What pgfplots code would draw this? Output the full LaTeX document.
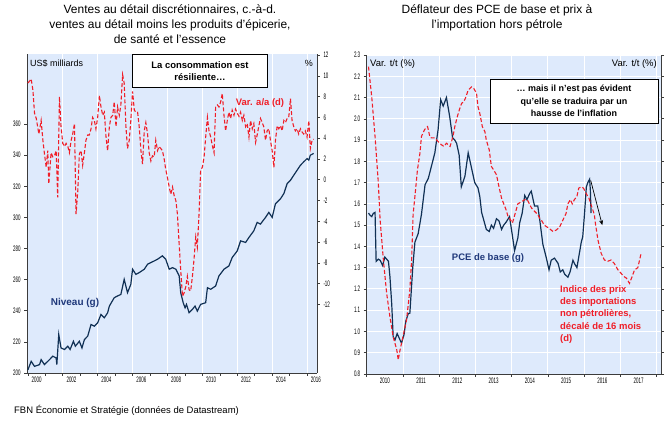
\documentclass[border=0pt]{standalone}
\usepackage{fontspec}
\setmainfont{Liberation Sans}
\newfontfamily\tickfont{Liberation Sans}[FakeStretch=0.56]
\usepackage{pgfplots}
\pgfplotsset{compat=1.18}
\usetikzlibrary{arrows.meta}
\definecolor{bgblue}{RGB}{222,234,252}
\definecolor{navyline}{RGB}{16,48,84}
\definecolor{labelblue}{RGB}{31,56,122}
\definecolor{redline}{RGB}{240,30,40}
\definecolor{axisgray}{RGB}{60,60,60}

\pgfplotsset{
  panel/.style={
    scale only axis,
    tick align=outside,
    major tick length=3pt,
    minor tick length=3pt,
    every tick/.style={axisgray, line width=0.6pt},
    axis line style={axisgray, line width=0.8pt},
    tick label style={font=\tickfont\fontsize{8}{9}\selectfont},
    /pgf/number format/assume math mode=true,
    grid style={white, line width=0.9pt},
    clip=true,
  },
  reddash/.style={redline, line width=1.1pt, dash pattern=on 4pt off 2.2pt},
  navy/.style={navyline, line width=1.2pt},
}

\begin{document}
\begin{tikzpicture}[x=1bp, y=1bp]
\useasboundingbox (0,0) rectangle (666,422);

% ---------------- left panel ----------------
\begin{axis}[panel,
  at={(27bp,49bp)}, anchor=south west, width=290bp, height=319bp,
  xmin=1999.95, xmax=2016.57, ymin=200, ymax=405,
  axis x line*=bottom, axis y line*=left,
  axis background/.style={fill=bgblue},
  xtick={2000,2002,...,2016}, minor xtick={2001,2003,...,2015},
  xticklabels={}, xmajorgrids,
  extra x ticks={2000.5,2002.5,2004.5,2006.5,2008.5,2010.5,2012.5,2014.5,2016.5},
  extra x tick labels={2000,2002,2004,2006,2008,2010,2012,2014,2016},
  extra x tick style={major tick length=0pt, grid=none},
  ytick={200,220,...,360},
]
\addplot[navy] coordinates {
(2000.00,202)(2000.19,207.5)(2000.38,204.3)(2000.67,205.4)(2000.76,208.6)(2000.95,205.4)(2001.24,208.6)(2001.43,210.8)(2001.62,209.7)(2001.66,205.4)(2001.77,224.7)(2001.90,216.1)(2002.10,215.1)(2002.29,217.2)(2002.42,215.1)(2002.61,220.4)(2002.72,217.2)(2002.95,220.4)(2003.10,216.1)(2003.24,221.5)(2003.43,223.7)(2003.62,231.2)(2003.81,230.1)(2004.00,232.3)(2004.19,237.6)(2004.38,235.5)(2004.57,238.7)(2004.67,243)(2004.95,248.4)(2005.14,249.5)(2005.33,250.5)(2005.52,260.2)(2005.71,251.6)(2005.90,257)(2006.00,266.7)(2006.19,263.4)(2006.38,264.5)(2006.67,266.7)(2006.86,269.9)(2007.05,271)(2007.24,272)(2007.43,273.1)(2007.71,275.3)(2007.90,273.1)(2008.10,266.7)(2008.29,267.7)(2008.48,266.7)(2008.67,262.4)(2008.76,251.6)(2008.90,245.2)(2009.01,241.9)(2009.09,244.1)(2009.24,238.7)(2009.43,240.9)(2009.58,243)(2009.71,239.8)(2009.90,244.1)(2010.19,245.2)(2010.29,254.8)(2010.48,253.8)(2010.76,255.9)(2010.95,262.4)(2011.24,266.7)(2011.52,268.8)(2011.71,274.2)(2012.00,278.5)(2012.19,284.9)(2012.48,283.9)(2012.67,287.1)(2012.95,291.4)(2013.14,296.8)(2013.33,295.7)(2013.62,300)(2013.81,303.2)(2014.00,300)(2014.19,308.8)(2014.48,312)(2014.67,315.3)(2014.86,321.7)(2015.05,323.9)(2015.24,327.1)(2015.43,330.3)(2015.62,333.5)(2015.81,335.7)(2016.00,337.8)(2016.10,336.8)(2016.19,340)(2016.38,341.1)
};
\end{axis}

\begin{axis}[panel,
  at={(27bp,49bp)}, anchor=south west, width=290bp, height=319bp,
  xmin=1999.95, xmax=2016.57, ymin=-18.6, ymax=12.1,
  axis y line*=right, hide x axis,
  ytick={-12,-10,...,12},
]
\addplot[reddash] coordinates {
(2000.00,9.3)(2000.10,9.5)(2000.19,9.7)(2000.29,8.6)(2000.38,6.4)(2000.48,5.9)(2000.63,4.4)(2000.76,5.7)(2000.86,3.8)(2000.95,2.5)(2001.05,1.2)(2001.14,2.8)(2001.20,-0.4)(2001.33,2.6)(2001.43,2.2)(2001.52,2.3)(2001.62,2.8)(2001.71,-1.7)(2001.81,8.0)(2001.90,5.1)(2002.00,3.5)(2002.10,3.2)(2002.19,3.5)(2002.29,3.2)(2002.38,2.6)(2002.48,3.8)(2002.57,4.4)(2002.67,5.4)(2002.76,-3.3)(2002.86,-1.1)(2002.95,2.5)(2003.05,2.8)(2003.14,1.4)(2003.24,2.6)(2003.33,3.8)(2003.43,4.3)(2003.52,4.3)(2003.62,4.9)(2003.71,6.0)(2003.81,5.7)(2003.90,4.9)(2004.00,6.0)(2004.10,8.1)(2004.19,7.0)(2004.29,6.2)(2004.38,6.5)(2004.48,4.1)(2004.57,2.8)(2004.67,5.1)(2004.76,6.0)(2004.86,6.2)(2004.95,7.5)(2005.05,5.1)(2005.14,7.0)(2005.24,6.2)(2005.33,7.2)(2005.43,10.1)(2005.52,9.3)(2005.62,5.1)(2005.71,3.0)(2005.81,3.8)(2005.90,5.7)(2006.00,8.5)(2006.10,6.7)(2006.19,6.5)(2006.29,6.5)(2006.38,5.1)(2006.48,2.8)(2006.57,1.5)(2006.67,4.7)(2006.76,5.5)(2006.86,4.4)(2006.95,2.6)(2007.05,1.8)(2007.14,2.3)(2007.24,2.2)(2007.33,3.8)(2007.43,2.8)(2007.52,3.2)(2007.62,3.0)(2007.71,2.8)(2007.81,2.0)(2007.90,1.0)(2008.00,0.2)(2008.10,-0.7)(2008.19,-1.4)(2008.29,-0.7)(2008.38,-1.5)(2008.48,-2.0)(2008.57,-3.3)(2008.67,-6.2)(2008.76,-8.7)(2008.86,-11.2)(2008.95,-10.9)(2009.05,-10.3)(2009.14,-9.3)(2009.24,-10.6)(2009.33,-10.7)(2009.43,-9.3)(2009.52,-7.7)(2009.62,-5.5)(2009.71,-6.5)(2009.81,-3.3)(2009.90,0.9)(2010.00,1.2)(2010.10,2.2)(2010.19,4.1)(2010.29,6.0)(2010.38,4.7)(2010.48,4.1)(2010.57,3.3)(2010.67,2.6)(2010.76,7.0)(2010.86,7.2)(2010.95,7.0)(2011.05,7.5)(2011.14,8.3)(2011.24,6.2)(2011.33,4.7)(2011.43,5.7)(2011.52,6.5)(2011.62,5.9)(2011.71,6.7)(2011.81,6.2)(2011.90,6.8)(2012.00,6.4)(2012.10,6.1)(2012.19,6.5)(2012.29,5.7)(2012.38,6.2)(2012.48,5.1)(2012.57,5.4)(2012.67,4.1)(2012.76,5.7)(2012.86,4.9)(2012.95,5.4)(2013.05,3.6)(2013.14,4.3)(2013.24,5.2)(2013.33,5.9)(2013.43,5.5)(2013.52,5.1)(2013.62,3.8)(2013.71,4.7)(2013.81,4.9)(2013.90,3.8)(2014.00,2.8)(2014.10,1.2)(2014.19,3.8)(2014.29,5.2)(2014.38,4.9)(2014.48,5.2)(2014.57,4.7)(2014.67,5.7)(2014.76,5.5)(2014.86,5.9)(2014.95,6.0)(2015.05,7.8)(2015.14,5.7)(2015.24,5.1)(2015.33,4.7)(2015.43,4.9)(2015.52,4.4)(2015.62,4.9)(2015.71,4.6)(2015.81,4.4)(2015.90,4.7)(2016.00,4.1)(2016.10,5.7)(2016.19,3.0)(2016.29,3.8)(2016.38,3.9)
};
\end{axis}

% ---------------- right panel ----------------
\begin{axis}[panel,
  at={(366.7bp,48bp)}, anchor=south west, width=294.3bp, height=319bp,
  xmin=2010, xmax=2018.12, ymin=0.8, ymax=2.3,
  axis x line*=bottom, axis y line*=left,
  axis background/.style={fill=bgblue},
  xtick={2010,2011,...,2018}, xticklabels={}, xmajorgrids,
  extra x ticks={2010.5,2011.5,2012.5,2013.5,2014.5,2015.5,2016.5,2017.5},
  extra x tick labels={2010,2011,2012,2013,2014,2015,2016,2017},
  extra x tick style={major tick length=0pt, grid=none},
  ytick={0.8,0.9,1.0,1.1,1.2,1.3,1.4,1.5,1.6,1.7,1.8,1.9,2.0,2.1,2.2,2.3},
  ymajorgrids,
  yticklabel style={/pgf/number format/.cd, fixed, fixed zerofill, precision=1},
]
\addplot[navy] coordinates {
(2010.05,1.557)(2010.09,1.547)(2010.14,1.54)(2010.18,1.555)(2010.23,1.56)(2010.26,1.33)(2010.32,1.34)(2010.37,1.335)(2010.44,1.31)(2010.50,1.35)(2010.60,1.33)(2010.64,1.26)(2010.69,1.13)(2010.73,0.975)(2010.78,0.96)(2010.84,0.99)(2010.92,0.96)(2010.96,0.945)(2011.03,0.985)(2011.08,1.05)(2011.15,1.085)(2011.19,1.085)(2011.27,1.30)(2011.33,1.42)(2011.42,1.46)(2011.51,1.55)(2011.61,1.69)(2011.70,1.72)(2011.79,1.78)(2011.88,1.84)(2011.97,1.95)(2012.04,2.09)(2012.11,2.06)(2012.20,2.10)(2012.29,2.01)(2012.37,1.91)(2012.43,1.90)(2012.48,1.885)(2012.55,1.83)(2012.61,1.68)(2012.71,1.73)(2012.80,1.84)(2012.89,1.77)(2012.98,1.70)(2013.07,1.675)(2013.12,1.635)(2013.17,1.56)(2013.30,1.48)(2013.38,1.47)(2013.44,1.50)(2013.50,1.485)(2013.58,1.53)(2013.65,1.52)(2013.72,1.48)(2013.78,1.50)(2013.85,1.515)(2013.94,1.54)(2014.02,1.45)(2014.08,1.38)(2014.17,1.44)(2014.22,1.51)(2014.29,1.557)(2014.36,1.64)(2014.42,1.62)(2014.50,1.65)(2014.54,1.66)(2014.63,1.59)(2014.72,1.59)(2014.77,1.53)(2014.86,1.41)(2014.95,1.35)(2015.03,1.29)(2015.09,1.335)(2015.18,1.345)(2015.28,1.32)(2015.34,1.28)(2015.41,1.29)(2015.46,1.27)(2015.55,1.255)(2015.61,1.28)(2015.69,1.335)(2015.73,1.32)(2015.80,1.30)(2015.85,1.35)(2015.92,1.42)(2015.96,1.445)(2016.01,1.555)(2016.06,1.68)(2016.10,1.70)(2016.15,1.716)(2016.17,1.665)(2016.19,1.557)
};
\draw[black, line width=0.7pt, -{Stealth[length=5pt,width=4pt]}] (axis cs:2016.18,1.71) -- (axis cs:2016.5,1.50);
\end{axis}

\begin{axis}[panel,
  at={(366.7bp,48bp)}, anchor=south west, width=294.3bp, height=319bp,
  xmin=2010, xmax=2018.12, ymin=-8, ymax=7,
  axis y line*=right, hide x axis,
  ytick={-8,-7,...,7},
]
\addplot[reddash] coordinates {
(2010.05,6.45)(2010.14,5.0)(2010.23,3.17)(2010.32,1.0)(2010.37,-0.75)(2010.46,-2.64)(2010.55,-4.2)(2010.64,-5.3)(2010.73,-6.25)(2010.83,-6.87)(2010.87,-7.34)(2010.92,-6.87)(2011.00,-6.25)(2011.10,-5.45)(2011.19,-4.05)(2011.24,-2.6)(2011.28,-0.5)(2011.33,0.35)(2011.40,1.6)(2011.47,2.4)(2011.51,3.17)(2011.60,3.5)(2011.68,3.63)(2011.74,3.17)(2011.78,3.1)(2011.88,3.1)(2011.97,2.93)(2012.06,2.78)(2012.13,2.7)(2012.20,2.85)(2012.25,2.78)(2012.30,2.7)(2012.34,2.93)(2012.38,3.17)(2012.43,3.63)(2012.50,4.1)(2012.57,4.5)(2012.62,4.73)(2012.68,4.8)(2012.73,5.0)(2012.80,5.35)(2012.89,5.5)(2012.95,5.44)(2013.03,5.2)(2013.07,4.57)(2013.12,4.26)(2013.19,3.63)(2013.26,3.4)(2013.30,3.0)(2013.38,2.54)(2013.44,1.76)(2013.50,1.6)(2013.58,1.37)(2013.65,0.8)(2013.72,0.27)(2013.78,0.0)(2013.85,-0.3)(2013.90,-0.6)(2013.95,-0.7)(2014.02,-0.9)(2014.08,-0.55)(2014.17,0.0)(2014.27,0.1)(2014.36,0.2)(2014.43,0.2)(2014.50,-0.05)(2014.55,-0.2)(2014.63,-0.35)(2014.72,-0.5)(2014.77,-0.67)(2014.82,-0.77)(2014.90,-1.0)(2015.03,-1.15)(2015.14,-1.3)(2015.23,-1.23)(2015.32,-1.1)(2015.41,-0.77)(2015.50,-0.45)(2015.55,0.0)(2015.62,0.2)(2015.67,0.0)(2015.73,0.2)(2015.80,0.35)(2015.85,0.74)(2015.92,0.8)(2015.98,0.74)(2016.05,0.5)(2016.13,0.27)(2016.19,-0.04)(2016.28,-0.5)(2016.31,-0.92)(2016.38,-1.7)(2016.47,-2.33)(2016.56,-2.64)(2016.65,-2.7)(2016.74,-2.64)(2016.83,-2.8)(2016.93,-3.1)(2017.02,-3.27)(2017.11,-3.43)(2017.17,-3.5)(2017.25,-3.74)(2017.32,-3.43)(2017.39,-3.1)(2017.48,-3.0)(2017.57,-2.33)
};
\end{axis}

% ---------------- text ----------------
\node[anchor=north, align=center, inner sep=0pt, font=\fontsize{12}{15.5}\selectfont] at (170,418)
  {Ventes au détail discrétionnaires, c.-à-d.\\ventes au détail moins les produits d’épicerie,\\de santé et l’essence};
\node[anchor=north, align=center, inner sep=0pt, font=\fontsize{12}{15.5}\selectfont] at (497,418)
  {Déflateur des PCE de base et prix à\\l’importation hors pétrole};

\node[anchor=west, inner sep=0pt, font=\fontsize{9}{10}\selectfont] at (30,359) {US\$ milliards};
\node[anchor=east, inner sep=0pt, font=\fontsize{9}{10}\selectfont] at (313,359) {\%};
\node[draw=black, fill=white, line width=0.8pt, align=center, minimum width=135bp, minimum height=33bp, inner sep=2pt,
  font=\bfseries\fontsize{9.5}{12.5}\selectfont] at (200,351) {La consommation est\\résiliente…};
\node[text=redline, inner sep=0pt, font=\bfseries\fontsize{9.5}{11}\selectfont] at (260,319) {Var. a/a (d)};
\node[text=labelblue, inner sep=0pt, font=\bfseries\fontsize{10}{11}\selectfont] at (75,119) {Niveau (g)};

\node[anchor=west, inner sep=0pt, font=\fontsize{9.5}{10}\selectfont] at (370,358) {Var. t/t (\%)};
\node[anchor=east, inner sep=0pt, font=\fontsize{9.5}{10}\selectfont] at (657,358) {Var. t/t (\%)};
\node[draw=black, fill=white, line width=0.8pt, align=center, minimum width=168bp, minimum height=44bp, inner sep=2pt,
  font=\bfseries\fontsize{9}{12.5}\selectfont] at (574,321) {… mais il n’est pas évident\\qu’elle se traduira par un\\hausse de l’inflation};
\node[text=labelblue, inner sep=0pt, font=\bfseries\fontsize{9.5}{11}\selectfont] at (488,164) {PCE de base (g)};
\node[anchor=north west, align=left, text=redline, inner sep=0pt, font=\bfseries\fontsize{9.5}{12.5}\selectfont] at (560,137)
  {Indice des prix\\des importations\\non pétrolières,\\décalé de 16 mois\\(d)};

\node[anchor=west, inner sep=0pt, font=\fontsize{9.5}{11}\selectfont] at (14,12) {FBN Économie et Stratégie (données de Datastream)};
\end{tikzpicture}
\end{document}
